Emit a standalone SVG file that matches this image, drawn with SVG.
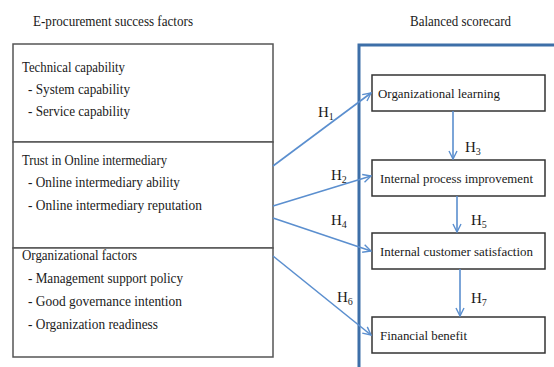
<svg xmlns="http://www.w3.org/2000/svg" width="554" height="367" viewBox="0 0 554 367">
<style>
text{font-family:"Liberation Serif","DejaVu Serif","Times New Roman",serif;font-size:14px;fill:#1a1a1a}
.rt{font-size:13.5px}
.lbox{fill:#fff;stroke:#555;stroke-width:1.5}
.rbox{fill:#fff;stroke:#333;stroke-width:1.5}
.frame{fill:none;stroke:#3d6fa8;stroke-width:3}
.arr{stroke:#5b8fcf;stroke-width:1.6;fill:none;marker-end:url(#ah)}
.h{font-size:15px}
.sub{font-size:10px}
</style>
<defs>
<marker id="ah" viewBox="0 0 10 10" refX="9" refY="5" markerWidth="10" markerHeight="10" markerUnits="userSpaceOnUse" orient="auto">
<path d="M1,1 L9,5 L1,9" fill="none" stroke="#5b8fcf" stroke-width="1.4"/>
</marker>
</defs>
<rect width="554" height="367" fill="#fff"/>
<text x="33" y="26" textLength="160" lengthAdjust="spacingAndGlyphs">E-procurement success factors</text>
<text x="410" y="26" textLength="101" lengthAdjust="spacingAndGlyphs">Balanced scorecard</text>
<path class="frame" d="M359,367 V45 H556"/>
<g id="tech">
<rect class="lbox" x="13" y="44" width="260" height="98"/>
<text x="22" y="72" textLength="103" lengthAdjust="spacingAndGlyphs">Technical capability</text>
<text x="28" y="94" textLength="102" lengthAdjust="spacingAndGlyphs">- System capability</text>
<text x="28" y="116" textLength="102" lengthAdjust="spacingAndGlyphs">- Service capability</text>
</g>
<g id="trust">
<rect class="lbox" x="13" y="142" width="260" height="106"/>
<text x="22" y="165" textLength="145" lengthAdjust="spacingAndGlyphs">Trust in Online intermediary</text>
<text x="28" y="187" textLength="152" lengthAdjust="spacingAndGlyphs">- Online intermediary ability</text>
<text x="28" y="210" textLength="174" lengthAdjust="spacingAndGlyphs">- Online intermediary reputation</text>
</g>
<g id="org">
<rect class="lbox" x="13" y="248" width="260" height="109"/>
<text x="22" y="260" textLength="115" lengthAdjust="spacingAndGlyphs">Organizational factors</text>
<text x="28" y="283" textLength="155" lengthAdjust="spacingAndGlyphs">- Management support policy</text>
<text x="28" y="306" textLength="154" lengthAdjust="spacingAndGlyphs">- Good governance intention</text>
<text x="28" y="329" textLength="130" lengthAdjust="spacingAndGlyphs">- Organization readiness</text>
</g>
<g id="learning">
<rect class="rbox" x="372" y="75" width="173" height="36"/>
<text class="rt" x="378" y="98" textLength="122" lengthAdjust="spacingAndGlyphs">Organizational learning</text>
</g>
<g id="process">
<rect class="rbox" x="372" y="160" width="173" height="36"/>
<text class="rt" x="380" y="183" textLength="153" lengthAdjust="spacingAndGlyphs">Internal process improvement</text>
</g>
<g id="customer">
<rect class="rbox" x="372" y="233" width="173" height="36"/>
<text class="rt" x="380" y="256" textLength="153" lengthAdjust="spacingAndGlyphs">Internal customer satisfaction</text>
</g>
<g id="financial">
<rect class="rbox" x="372" y="317" width="173" height="36"/>
<text class="rt" x="380" y="340" textLength="87" lengthAdjust="spacingAndGlyphs">Financial benefit</text>
</g>
<g id="connectors">
<line class="arr" x1="273" y1="166" x2="371" y2="93"/>
<line class="arr" x1="273" y1="206" x2="371" y2="176"/>
<line class="arr" x1="273" y1="218" x2="371" y2="251"/>
<line class="arr" x1="273" y1="256" x2="371" y2="335"/>
<line class="arr" x1="453" y1="111" x2="453" y2="159"/>
<line class="arr" x1="457" y1="196" x2="457" y2="232"/>
<line class="arr" x1="460" y1="269" x2="460" y2="316"/>
<text class="h" x="318" y="117">H<tspan class="sub" dy="3">1</tspan></text>
<text class="h" x="331" y="180">H<tspan class="sub" dy="3">2</tspan></text>
<text class="h" x="465" y="152">H<tspan class="sub" dy="3">3</tspan></text>
<text class="h" x="331" y="225">H<tspan class="sub" dy="3">4</tspan></text>
<text class="h" x="471" y="225">H<tspan class="sub" dy="3">5</tspan></text>
<text class="h" x="337" y="302">H<tspan class="sub" dy="3">6</tspan></text>
<text class="h" x="471" y="303">H<tspan class="sub" dy="3">7</tspan></text>
</g>
</svg>
